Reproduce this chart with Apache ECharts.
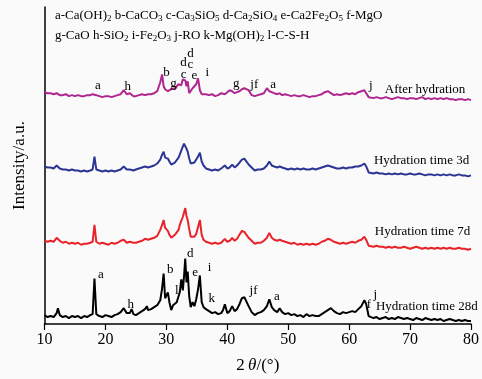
<!DOCTYPE html>
<html><head><meta charset="utf-8">
<script src="https://cdn.jsdelivr.net/npm/echarts@6/dist/echarts.min.js"></script>
<style>html,body{margin:0;padding:0;background:#fafafa}#c{width:482px;height:379px}</style>
</head><body><div id="c"></div>
<script>
// 2θ positions (degrees)
const twoTheta = [
10,10.5,11,11.5,12,12.2,12.5,13,13.5,14,
14.5,15,15.5,16,16.5,17,17.5,17.9,18.2,18.5,
19,19.5,20,20.5,21,21.5,22,22.5,23,23.5,
24,24.3,24.6,25,25.5,26,26.5,26.8,27,27.5,
28,28.5,29,29.3,29.55,29.8,30.25,30.5,30.8,31.1,
31.4,31.7,32,32.2,32.45,32.7,32.9,33.1,33.3,33.5,
33.75,34,34.3,34.6,34.9,35.2,35.5,35.8,36.1,36.5,
37,37.5,38,38.5,39,39.3,39.6,40,40.4,40.8,
41.2,41.6,42,42.4,42.8,43.1,43.5,44,44.5,45,
45.5,46,46.5,46.9,47.3,47.7,48.2,48.6,49,49.5,
50,50.5,51,51.5,52,52.5,53,53.5,54,54.5,
55,55.5,56,56.5,57,57.5,58,58.5,59,59.5,
60,60.5,61,61.5,62,62.5,62.8,63.2,63.5,64,
64.5,65,65.5,66,66.5,67,67.5,68,68.5,69,
69.5,70,70.5,71,71.5,72,72.5,73,73.5,74,
74.5,75,75.5,76,76.5,77,77.5,78,78.5,79,79.5,80];

// Intensities (a.u., offset stacked as in the figure)
const afterHydration = [
234,233,233,232,233,232,231,231,232,230,
231,230,231,230,230,231,231,232,234,231,
230,229,230,230,229,230,231,232,236,232,
233,231,230,230,231,232,231,233,232,232,
233,235,244,252,240,237,235,236,237,238,
238,240,242,244,241,247,248,246,240,245,
233,232,238,236,242,248,236,232,233,232,
231,232,230,231,233,231,232,234,236,235,
233,234,235,237,238,240,236,231,230,231,
232,233,238,235,234,233,232,233,231,232,
231,230,231,230,230,231,230,229,230,230,
231,232,234,235,233,231,232,231,232,233,
232,233,232,234,235,236,233,229,228,228,
229,228,228,229,228,227,228,229,228,228,
227,228,228,227,228,229,227,228,227,228,
227,228,227,228,227,227,226,227,227,226,227,226];

const day3 = [
159,158,158,157,160,159,157,156,156,155,
156,155,155,154,155,154,155,156,169,156,
155,154,155,154,155,154,155,156,159,156,
156,157,155,156,157,158,159,160,158,159,
160,162,166,171,174,168,167,164,161,162,
163,165,168,171,175,179,182,181,177,174,
167,162,161,163,165,169,173,164,160,157,
156,155,156,155,157,158,160,157,158,161,
158,160,163,166,167,165,161,158,155,156,
156,157,160,164,160,159,158,159,158,157,
156,157,156,157,156,157,156,156,157,156,
157,158,159,160,159,158,157,157,158,157,
158,158,159,159,160,162,159,153,152,152,
153,152,152,151,152,151,152,151,152,151,
151,152,151,151,152,151,150,151,151,150,
151,150,151,150,151,150,150,151,150,150,149,150];

const day7 = [
84,83,84,83,87,86,84,82,83,81,
82,81,82,80,81,81,82,83,100,83,
81,82,81,80,82,81,82,84,85,82,
83,85,82,82,83,84,86,87,85,86,
87,89,95,100,105,97,94,90,87,89,
90,92,95,100,104,108,110,117,109,105,
96,88,86,88,91,98,105,90,85,83,
82,81,82,81,82,84,86,83,84,87,
84,86,90,94,93,91,87,84,81,82,
82,84,87,92,87,85,84,85,84,83,
82,81,82,80,81,80,81,80,81,80,
81,83,84,86,85,83,82,81,82,81,
82,83,82,84,85,88,85,79,79,78,
79,78,78,77,78,77,78,77,77,78,
77,76,77,78,77,76,77,76,77,76,
77,76,77,76,77,76,76,77,76,76,75,76];

const day28 = [
9,7,8,7,11,16,9,7,8,6,
8,7,8,6,8,7,9,10,46,10,
8,7,9,8,7,9,10,12,16,11,
11,15,10,9,11,13,15,18,14,15,
17,19,24,36,51,26,32,22,14,19,
20,22,24,32,45,34,48,66,42,53,
28,17,22,18,25,35,49,22,17,15,
13,11,12,10,11,14,20,11,13,18,
13,15,20,26,27,25,18,12,9,11,
12,14,18,25,17,14,12,16,12,10,
11,9,10,8,9,7,10,8,9,8,
8,10,12,14,16,13,11,10,12,11,
12,13,12,15,18,24,20,8,7,6,
7,5,6,7,5,6,5,7,6,5,
6,5,4,6,5,4,6,5,4,5,
4,5,3,4,5,4,3,4,3,4,3,3];

const seriesNames = ['After hydration','Hydration time 3d','Hydration time 7d','Hydration time 28d'];
const seriesValues = [afterHydration, day3, day7, day28];
const seriesColors = ['#b0268f','#2b3593','#e8232a','#000000'];
// label anchors [2θ, intensity] (left, middle)
const seriesLabelAnchor = [[65.86,236.3],[64.06,165.3],[64.22,93],[64.39,17.7]];

// phase markers: [letter, 2θ, intensity]
const peakMarks = [
['a',18.75,241],['h',23.66,240],['b',30.04,254],['g',31.18,243],
['d',32.82,264],['c',32.82,252],['d',33.96,273],['c',33.96,262],['e',34.62,251],['i',36.74,254],
['g',41.49,243],['jf',44.43,242],['a',47.54,242],['j',63.57,241],
['a',19.24,50],['h',24.15,20],['b',30.64,55],['l',31.72,34],['d',33.91,71],['e',34.73,52],
['i',37.07,57],['k',37.45,26],['jf',44.31,34],['a',48.14,28],['f',63.24,20],['j',64.3,30]
];

const legendLine1 = '{t|a-Ca(OH)}{s|2}{t| b-CaCO}{s|3}{t| c-Ca}{s|3}{t|SiO}{s|5}{t| d-Ca}{s|2}{t|SiO}{s|4}{t| e-Ca2Fe}{s|2}{t|O}{s|5}{t| f-MgO}';
const legendLine2 = '{t|g-CaO h-SiO}{s|2}{t| i-Fe}{s|2}{t|O}{s|3}{t| j-RO k-Mg(OH)}{s|2}{t| l-C-S-H}';

const FONT = "'Times New Roman','Liberation Serif',serif";
const xTicks = [10,20,30,40,50,60,70,80];

const chart = echarts.init(document.getElementById('c'), null, {renderer:'canvas'});
const series = seriesValues.map((vals, k) => ({
  name: seriesNames[k], type: 'line', showSymbol: false, symbol: 'none',
  data: twoTheta.map((x, i) => [x, vals[i]]),
  lineStyle: {color: seriesColors[k], width: 2},
  itemStyle: {color: seriesColors[k]},
  silent: true, z: 2
}));

chart.setOption({
  animation: false,
  backgroundColor: '#fafafa',
  grid: {left: 44.5, right: 9, top: 7, bottom: 52, containLabel: false},
  xAxis: {
    type: 'value', min: xTicks[0], max: xTicks[xTicks.length-1], interval: 10,
    axisLine: {show: true, lineStyle: {color: '#000', width: 1.5}},
    axisTick: {show: true, inside: false, length: 6, lineStyle: {color: '#000', width: 1.2}},
    axisLabel: {color: '#000', fontFamily: FONT, fontSize: 16, margin: 8},
    splitLine: {show: false},
    name: '{n|2}{i|\u2009θ}{n|/(°)}', nameLocation: 'middle', nameGap: 33,
    nameTextStyle: {rich: {n: {fontFamily: FONT, fontSize: 17, color: '#000'}, i: {fontFamily: FONT, fontSize: 17, fontStyle: 'italic', color: '#000'}}}
  },
  yAxis: {
    type: 'value', min: 0, max: 320,
    axisLine: {show: true, lineStyle: {color: '#000', width: 1.5}},
    axisTick: {show: false}, axisLabel: {show: false}, splitLine: {show: false},
    name: 'Intensity/a.u.', nameLocation: 'middle', nameGap: 16,
    nameTextStyle: {fontFamily: FONT, fontSize: 17, color: '#000'}
  },
  series: series
});

const graphics = [];
peakMarks.forEach(([t, x, y]) => {
  const p = chart.convertToPixel({gridIndex: 0}, [x, y]);
  graphics.push({type: 'text', x: p[0], y: p[1], silent: true, z: 10,
    style: {text: t, font: '13px ' + FONT, fill: '#000', textAlign: 'center', textVerticalAlign: 'middle', align: 'center', verticalAlign: 'middle'}});
});
seriesNames.forEach((n, k) => {
  const p = chart.convertToPixel({gridIndex: 0}, seriesLabelAnchor[k]);
  graphics.push({type: 'text', x: p[0], y: p[1], silent: true, z: 10,
    style: {text: n, font: '13px ' + FONT, fill: '#000', textAlign: 'left', textVerticalAlign: 'middle', align: 'left', verticalAlign: 'middle'}});
});
const richLegend = {
  t: {fontFamily: FONT, fontSize: 13, color: '#000', lineHeight: 16},
  s: {fontFamily: FONT, fontSize: 9, color: '#000', lineHeight: 10, verticalAlign: 'bottom'}
};
[legendLine1, legendLine2].forEach((txt, k) => {
  graphics.push({type: 'text', left: 55, top: 9 + k * 20, silent: true, z: 10,
    style: {text: txt, rich: richLegend, fill: '#000'}});
});
chart.setOption({graphic: graphics});
</script>
</body></html>
